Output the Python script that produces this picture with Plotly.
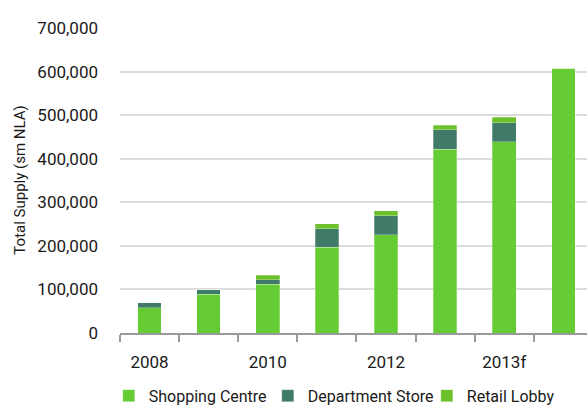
import plotly.graph_objects as go

categories = ["2008", "2009", "2010", "2011", "2012", "2013", "2013f", "2014f"]
tick_labels = ["2008", "", "2010", "", "2012", "", "2013f", ""]
shopping_centre = [58000, 89000, 112000, 197000, 225000, 422000, 439000, 608000]
department_store = [11000, 10000, 10000, 42000, 44000, 44000, 44000, 0]
retail_lobby = [0, 0, 11000, 12000, 12000, 11000, 12000, 0]

FONT = "Roboto, Liberation Sans, sans-serif"
TXT = "#1a1a1a"
edge = dict(color="rgba(255,255,255,0.45)", width=0.6)

fig = go.Figure()
fig.add_trace(go.Bar(x=categories, y=shopping_centre, name="Shopping Centre",
                     marker=dict(color="#66CC33", line=edge)))
fig.add_trace(go.Bar(x=categories, y=department_store, name="Department Store",
                     marker=dict(color="#3F7B68", line=edge)))
fig.add_trace(go.Bar(x=categories, y=retail_lobby, name="Retail Lobby",
                     marker=dict(color="#6CC02B", line=edge)))

fig.add_annotation(text="Total Supply (sm NLA)", xref="paper", yref="paper",
                   x=-0.216, y=0.5, xanchor="center", yanchor="middle",
                   textangle=-90, showarrow=False,
                   font=dict(family=FONT, size=15, color=TXT))

fig.update_layout(
    width=587, height=408,
    barmode="stack", bargap=0.6,
    plot_bgcolor="white", paper_bgcolor="white",
    margin=dict(l=120, r=0, t=28, b=75, autoexpand=False),
    font=dict(family=FONT, size=17, color=TXT),
    hovermode=False,
    legend=dict(orientation="h", x=-0.024, xanchor="left", y=-0.15, yanchor="top",
                font=dict(family=FONT, size=16, color=TXT),
                entrywidth=114, itemwidth=30, traceorder="normal"),
    xaxis=dict(type="category", range=[-0.5, 7.4], tickson="boundaries",
               tickmode="array", tickvals=categories, ticktext=tick_labels,
               tickangle=0, ticklabelstandoff=13,
               ticks="outside", ticklen=7, tickwidth=1.5, tickcolor="#9a9a9a",
               showline=True, linecolor="#9a9a9a", linewidth=2,
               showgrid=False, fixedrange=True,
               tickfont=dict(family=FONT, size=17, color=TXT)),
    yaxis=dict(range=[0, 700000], tickvals=[0, 100000, 200000, 300000, 400000, 500000, 600000, 700000],
               tickformat=",d", showgrid=True, gridcolor="#dcdcdc", gridwidth=1.5,
               zeroline=False, showline=False, ticks="", ticklabelstandoff=21,
               tickfont=dict(family=FONT, size=17, color=TXT)),
)

fig.write_html("out.html")
